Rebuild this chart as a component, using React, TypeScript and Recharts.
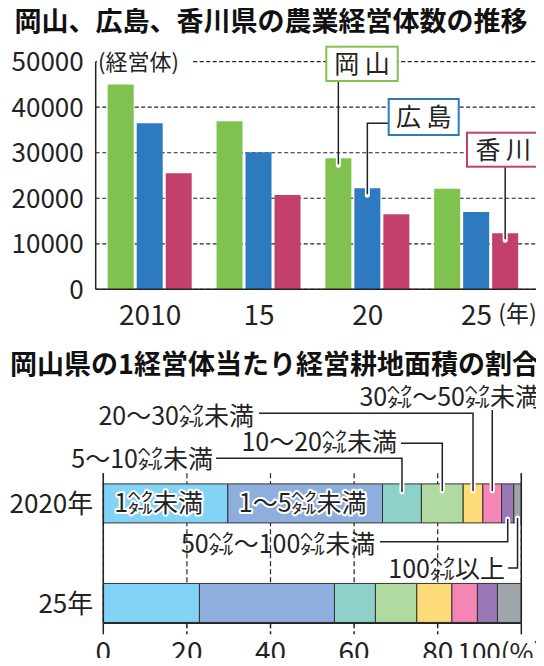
import React from 'react';
import { BarChart, Bar, XAxis, YAxis, CartesianGrid, ReferenceLine } from 'recharts';

const FONT = '"Noto Sans CJK JP", "Noto Sans CJK SC", sans-serif';
const INK = '#222';

// 農業経営体数（経営体）
const years = ['2010', '15', '20', '25'];
const okayama = [45000, 36900, 28800, 22100];
const hiroshima = [36500, 30100, 22200, 17000];
const kagawa = [25500, 20700, 16500, 12300];
const countTicks = [0, 10000, 20000, 30000, 40000, 50000];

// 岡山県の1経営体当たり経営耕地面積の割合（%）
const sizeClasses = ['1㌶未満', '1〜5㌶未満', '5〜10㌶未満', '10〜20㌶未満', '20〜30㌶未満', '30㌶〜50㌶未満', '50㌶〜100㌶未満', '100㌶以上'];
const rowNames = ['2020年', '', '25年'];
const share2020 = [29.8, 37.0, 9.3, 10.0, 4.7, 4.5, 2.9, 1.8];
const share2025 = [23.0, 32.3, 9.8, 9.9, 8.4, 6.1, 4.8, 5.7];
const pctTicks = [0, 20, 40, 60, 80, 100];

const GREEN = '#80c24f';
const BLUE = '#2d7ac0';
const RED = '#c33f6c';
const classColors = ['#83d3f7', '#8eaede', '#8dd1c9', '#b1d9a2', '#fddb78', '#f486b6', '#9a78b8', '#9ea6a9'];

const countData = years.map((year, i) => ({
  year,
  okayama: okayama[i],
  hiroshima: hiroshima[i],
  kagawa: kagawa[i],
}));

const shareData = rowNames.map((name, r) => {
  const vals = r === 0 ? share2020 : r === 2 ? share2025 : null;
  const row: any = { name };
  sizeClasses.forEach((_, k) => {
    row['c' + k] = vals ? vals[k] : null;
  });
  return row;
});

// 軸線の位置（各グラフの座標系で）
const TOP_AXIS_Y = 289.3;
const PCT_AXIS_Y = 293.3;

// ---- 上のグラフ ----
const CountTick = ({ x, y, payload }: any) => (
  <text x={x} y={y + 9.5} textAnchor="end" fontSize={26} fill={INK} fontFamily={FONT}>
    {payload.value}
  </text>
);

const YearTick = ({ x, payload }: any) => (
  <g>
    <text x={x} y={TOP_AXIS_Y + 35.5} textAnchor="middle" fontSize={28} fill={INK} fontFamily={FONT}>
      {payload.value}
    </text>
    {payload.value === '25' && (
      <text x={x + 21.7} y={TOP_AXIS_Y + 32.5} fontSize={23} fill={INK} fontFamily={FONT}>
        (年)
      </text>
    )}
  </g>
);

// 県名ボックスから棒の上端へ引き出し線
const pointer = (idx: number, from: (cx: number) => string) => (p: any) => {
  if (p.index !== idx) return null;
  const cx = p.x + p.width / 2;
  return (
    <g>
      <line x1={cx} y1={p.y - 1} x2={cx} y2={p.y + 7} stroke="#fff" strokeWidth={5} strokeLinecap="round" />
      <path d={`${from(cx)} V ${p.y + 6}`} fill="none" stroke={INK} strokeWidth={1.5} />
    </g>
  );
};

// ---- 下のグラフ ----
const RowTick = ({ x, y, payload }: any) =>
  payload.value ? (
    <text x={x} y={y + 9.5} textAnchor="end" fontSize={26} fill={INK} fontFamily={FONT}>
      {payload.value}
    </text>
  ) : null;

const PctTick = ({ x, payload }: any) => {
  const v = payload.value;
  const solid = v === 0 || v === 100;
  const y = PCT_AXIS_Y;
  return (
    <g>
      <line x1={x} x2={x} y1={y} y2={y + 11} stroke={INK} strokeWidth={1.5} strokeDasharray={solid ? undefined : '5 3'} />
      {v === 100 ? (
        <text x={x + 21} y={y + 38.5} textAnchor="end" fontSize={26} fill={INK} fontFamily={FONT}>
          100(%)
        </text>
      ) : (
        <text x={x} y={y + 38.5} textAnchor="middle" fontSize={28} fill={INK} fontFamily={FONT}>
          {v}
        </text>
      )}
    </g>
  );
};

// 区分ラベルの置き場所（棒の中 / 引き出し線付き）
const labelLayout: any[] = [
  { inside: true, dx: -7 },
  { inside: true, dx: -2.5 },
  { tx: 213, ty: 137.5, from: (cx: number) => `M 216 128.3 H ${cx}`, end: 'top', depth: 8 },
  { tx: 397, ty: 121, from: (cx: number) => `M 401 113.3 H ${cx}`, end: 'top', depth: 7 },
  { tx: 254, ty: 94.5, from: (cx: number) => `M 259 83.3 H ${cx}`, end: 'top', depth: 7 },
  { tx: 540, ty: 75.7, from: (cx: number) => `M ${cx} 80`, end: 'top', depth: 7 },
  { tx: 375.3, ty: 222.5, from: (cx: number) => `M 380 211.7 H ${cx}`, end: 'bottom', depth: 4 },
  { tx: 505, ty: 247.5, from: (cx: number) => `M 508 238 H ${cx}`, end: 'bottom', depth: 5 },
];

const classLabel = (k: number) => (p: any) => {
  if (p.index !== 0) return null;
  const spec = labelLayout[k];
  const cx = p.x + p.width / 2;
  const top = p.y;
  const bottom = p.y + p.height;
  if (spec.inside) {
    return (
      <text
        x={cx + spec.dx}
        y={top + p.height / 2 + 9}
        textAnchor="middle"
        fontSize={25}
        fill={INK}
        stroke="#fff"
        strokeWidth={4}
        strokeLinejoin="round"
        paintOrder="stroke"
        fontFamily={FONT}
      >
        {sizeClasses[k]}
      </text>
    );
  }
  const endY = spec.end === 'top' ? top + spec.depth : bottom - spec.depth;
  const edgeY = spec.end === 'top' ? top - 1 : bottom + 1;
  return (
    <g>
      <line x1={cx} y1={edgeY} x2={cx} y2={endY} stroke="#fff" strokeWidth={5} strokeLinecap="round" />
      <path d={`${spec.from(cx)} V ${endY}`} fill="none" stroke={INK} strokeWidth={1.5} />
      <text x={spec.tx} y={spec.ty} textAnchor="end" fontSize={25} fill={INK} fontFamily={FONT}>
        {sizeClasses[k]}
      </text>
    </g>
  );
};

const axisStyle = { stroke: INK, strokeWidth: 1.5 };

export default function App() {
  return (
    <div
      style={{
        position: 'relative',
        width: 544,
        height: 666,
        margin: -8,
        background: '#fff',
        overflow: 'hidden',
        fontFamily: FONT,
      }}
    >
      <div style={{ position: 'absolute', left: 0, top: 0 }}>
        <BarChart
          width={544}
          height={330}
          data={countData}
          margin={{ top: 61.7, right: 4, bottom: 0, left: 0 }}
          barSize={26}
          barGap={3}
        >
          <CartesianGrid vertical={false} stroke={INK} strokeDasharray="4 2.5" strokeWidth={1.2} />
          <XAxis
            dataKey="year"
            height={40.7}
            padding={{ left: 0, right: 9 }}
            axisLine={axisStyle}
            tickLine={false}
            tickSize={0}
            tickMargin={0}
            interval={0}
            tick={(p: any) => <YearTick {...p} />}
          />
          <YAxis
            width={95.7}
            domain={[0, 50000]}
            ticks={countTicks}
            interval={0}
            axisLine={axisStyle}
            tickLine={false}
            tickSize={0}
            tickMargin={12}
            tick={(p: any) => <CountTick {...p} />}
          />
          <Bar dataKey="okayama" fill={GREEN} isAnimationActive={false} label={pointer(2, (cx) => `M ${cx} 81`)} />
          <Bar dataKey="hiroshima" fill={BLUE} isAnimationActive={false} label={pointer(2, (cx) => `M 389 123.3 H ${cx}`)} />
          <Bar dataKey="kagawa" fill={RED} isAnimationActive={false} label={pointer(3, (cx) => `M ${cx} 166.7`)} />
        </BarChart>
      </div>

      <div style={{ position: 'absolute', left: 0, top: 330 }}>
        <BarChart
          layout="vertical"
          width={544}
          height={336}
          data={shareData}
          margin={{ top: 143.3, right: 22.7, bottom: 0, left: 0 }}
          barSize={39}
        >
          <CartesianGrid horizontal={false} stroke={INK} strokeDasharray="5 3" strokeWidth={1.2} />
          <XAxis
            type="number"
            domain={[0, 100]}
            ticks={pctTicks}
            interval={0}
            height={42.7}
            axisLine={axisStyle}
            tickLine={false}
            tickSize={0}
            tickMargin={0}
            tick={(p: any) => <PctTick {...p} />}
          />
          <YAxis
            type="category"
            dataKey="name"
            width={103.3}
            padding={{ top: 5.6, bottom: -4.9 }}
            axisLine={axisStyle}
            tickLine={false}
            tickSize={0}
            tickMargin={10}
            interval={0}
            tick={(p: any) => <RowTick {...p} />}
          />
          <ReferenceLine x={100} stroke={INK} strokeWidth={1.5} />
          {sizeClasses.map((c, k) => (
            <Bar
              key={c}
              dataKey={'c' + k}
              stackId="a"
              fill={classColors[k]}
              stroke="#333"
              strokeWidth={1}
              isAnimationActive={false}
              label={classLabel(k)}
            />
          ))}
        </BarChart>
      </div>

      <svg width={544} height={666} style={{ position: 'absolute', left: 0, top: 0, pointerEvents: 'none' }}>
        <text x={271} y={30.5} textAnchor="middle" fontSize={27} fontWeight={700} fill="#111" fontFamily={FONT}>
          岡山、広島、香川県の農業経営体数の推移
        </text>
        <text x={274.5} y={374} textAnchor="middle" fontSize={27} fontWeight={700} fill="#111" fontFamily={FONT}>
          岡山県の1経営体当たり経営耕地面積の割合
        </text>

        <rect x={97} y={50} width={96} height={24} fill="#fff" />
        <text x={98} y={70} fontSize={22} fill={INK} fontFamily={FONT}>
          (経営体)
        </text>

        <rect x={326.3} y={46.7} width={71.4} height={34.3} fill="#fff" stroke={GREEN} strokeWidth={2} />
        <text x={362} y={73} textAnchor="middle" fontSize={25} fill={INK} fontFamily={FONT}>
          岡 山
        </text>
        <rect x={388.7} y={99} width={70} height={36} fill="#fff" stroke={BLUE} strokeWidth={2} />
        <text x={423.7} y={126} textAnchor="middle" fontSize={25} fill={INK} fontFamily={FONT}>
          広 島
        </text>
        <rect x={467} y={132.7} width={72.7} height={34} fill="#fff" stroke={RED} strokeWidth={2} />
        <text x={503.3} y={159} textAnchor="middle" fontSize={25} fill={INK} fontFamily={FONT}>
          香 川
        </text>
      </svg>
    </div>
  );
}
